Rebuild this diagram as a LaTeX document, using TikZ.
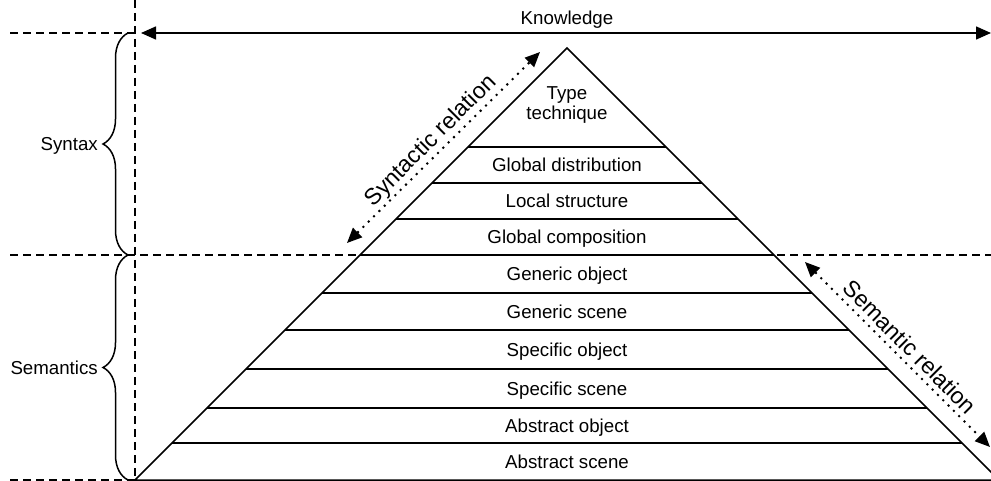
\documentclass[tikz,border=0pt]{standalone}
\usepackage{fontspec}
\setmainfont{Liberation Sans}
\usetikzlibrary{arrows.meta,decorations.pathreplacing}

\begin{document}
\begin{tikzpicture}[x=1pt,y=-1pt, >={Triangle[length=15pt,width=13pt]}]
  \tikzset{
    guide/.style={dash pattern=on 8pt off 5pt, line width=1.5pt},
    layer/.style={line width=1.5pt},
    relation/.style={dash pattern=on 2pt off 5.5pt, line width=2pt},
    curly/.style={decorate, decoration={brace, amplitude=25pt}, line width=1.5pt},
    lbl/.style={font=\fontsize{18.7}{20}\selectfont, inner sep=0pt, align=center},
    rel_lbl/.style={font=\fontsize{23}{27}\selectfont, inner sep=0pt},
  }

  % frame
  \useasboundingbox (0,0) rectangle (991,481);
  \clip (0,0) rectangle (991,481);

  % guide lines
  \draw[guide] (135,0) -- (135,481);
  \draw[guide] (10,33) -- (135,33);
  \draw[guide] (10,255) -- (991,255);
  \draw[guide] (10,480) -- (135,480);

  % pyramid
  \coordinate (apex) at (567,48);
  \coordinate (base_l) at (135,480);
  \coordinate (base_r) at (999,480);
  \draw[layer] (base_l) -- (apex) -- (base_r) -- cycle;
  \foreach \y in {147,183,219,255,293,330,369,408,443}
    \draw[layer] ({615-\y},\y) -- ({519+\y},\y);

  % layer names
  \node[lbl] (type) at (567,105) {Type\\technique};
  \foreach \name/\y/\txt in {
      glob_dist/171.7/Global distribution,
      loc_struct/207.7/Local structure,
      glob_comp/243.7/Global composition,
      gen_obj/280.7/Generic object,
      gen_scene/318.2/Generic scene,
      spec_obj/356.2/Specific object,
      spec_scene/395.2/Specific scene,
      abs_obj/432.2/Abstract object,
      abs_scene/468.2/Abstract scene}
    \node[lbl, anchor=base] (\name) at (567,\y) {\txt};

  % knowledge axis
  \coordinate (know_l) at (141,33);
  \coordinate (know_r) at (991,33);
  \draw[layer, <->] (know_l) -- (know_r);
  \node[lbl, anchor=base] (knowledge) at (567,25) {Knowledge};

  % syntax / semantics braces
  \draw[curly] (128,255) -- (128,33);
  \draw[curly] (128,480) -- (128,255);
  \node[lbl, anchor=base east] (syntax) at (98,150.7) {Syntax};
  \node[lbl, anchor=base east] (semantics) at (98,374.5) {Semantics};

  % relations
  \coordinate (syn_lo) at (347,243);
  \coordinate (syn_hi) at (540,52);
  \draw[relation, <->] (syn_lo) -- (syn_hi);
  \node[rel_lbl, rotate=45] (syn_rel) at (431,141) {Syntactic relation};

  \coordinate (sem_hi) at (805,262);
  \coordinate (sem_lo) at (990,447);
  \draw[relation, <->] (sem_hi) -- (sem_lo);
  \node[rel_lbl, rotate=-45] (sem_rel) at (910,347) {Semantic relation};
\end{tikzpicture}
\end{document}
